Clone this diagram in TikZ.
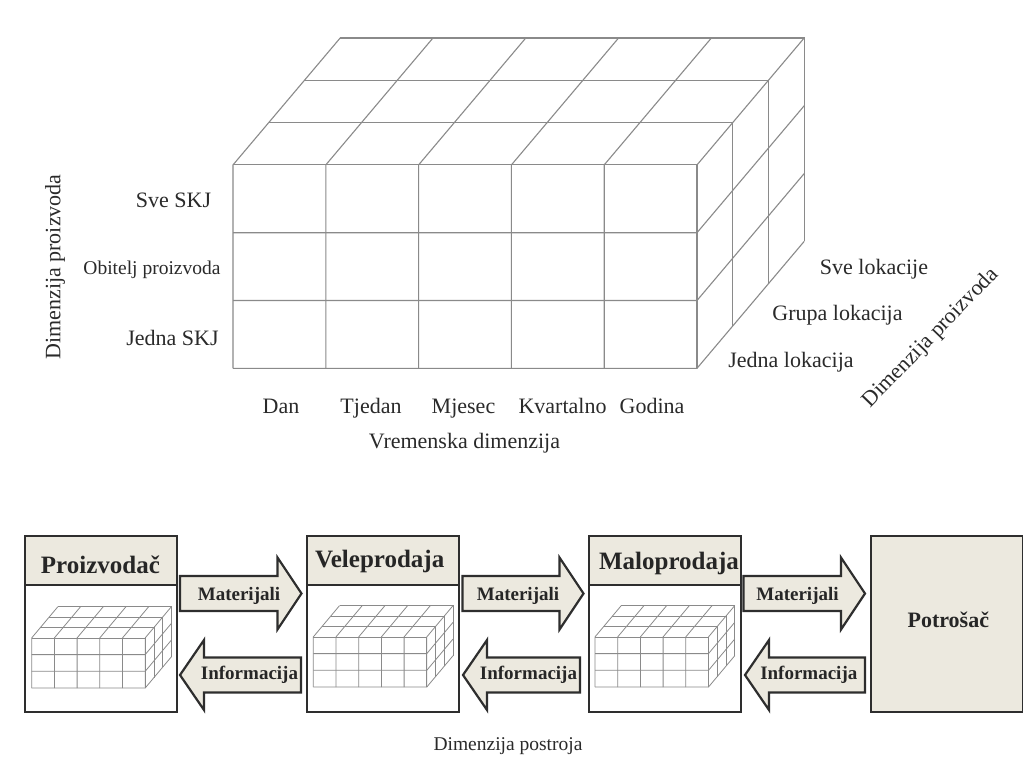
\documentclass[tikz,border=0pt]{standalone}
\usepackage{fontspec}
\setmainfont{Liberation Serif}
\usetikzlibrary{calc}
\definecolor{beige}{HTML}{ECE9DF}
\definecolor{txt}{HTML}{2A2A2A}
\definecolor{gridc}{HTML}{8A8A8A}
\definecolor{boxc}{HTML}{2E2E2E}
\def\da{0.385}
\def\db{0.624}
\newcommand{\cubegrid}{%
  \foreach \i in {0,...,5} {\draw (\i,0) -- (\i,3) -- ++(3*\da,3*\db);}
  \foreach \j in {0,...,2} {\draw (0,\j) -- (5,\j) -- ++(3*\da,3*\db);}
  \foreach \k in {0,...,3} {\draw (\k*\da,3+\k*\db) -- ++(5,0) -- ++(0,-3);}
}
\newcommand{\myrarrow}[3]{\draw[blockarrow] (#1,#3-17.5) -- (#2-24,#3-17.5) -- (#2-24,#3-36) -- (#2,#3) -- (#2-24,#3+36) -- (#2-24,#3+17.5) -- (#1,#3+17.5) -- cycle;}
\newcommand{\mylarrow}[3]{\draw[blockarrow] (#2,#3-17.5) -- (#1+24,#3-17.5) -- (#1+24,#3-35) -- (#1,#3) -- (#1+24,#3+35) -- (#1+24,#3+17.5) -- (#2,#3+17.5) -- cycle;}
\tikzset{
  lbl/.style={text=txt, inner sep=0pt, font=\fontsize{22}{26}\selectfont},
  smalllbl/.style={text=txt, inner sep=0pt, font=\fontsize{19.5}{23}\selectfont},
  bigbox/.style={draw=boxc, line width=2.4pt, minimum width=152pt, minimum height=176pt, anchor=north west, inner sep=0pt},
  hdr/.style={draw=boxc, fill=beige, line width=2.4pt, minimum width=152pt, minimum height=49pt, anchor=north west, inner sep=0pt},
  hdrtxt/.style={text=black!85, inner sep=0pt, anchor=base, font=\bfseries\fontsize{25}{29}\selectfont},
  arrtxt/.style={text=black!85, inner sep=0pt, font=\bfseries\fontsize{19}{22}\selectfont},
  blockarrow/.style={draw=boxc, fill=beige, line width=2.2pt, line join=miter},
  biggrid/.style={draw=gridc, line width=1.1pt},
  smallgrid/.style={draw=gridc, line width=0.8pt}
}
\begin{document}
\begin{tikzpicture}[x=1pt, y=-1pt]
\useasboundingbox[fill=white] (0,0) rectangle (1023,763);

% big cube
\begin{scope}[shift={(233,368.3)}, x={(92.8pt,0pt)}, y={(0pt,67.8pt)}, biggrid]
  \cubegrid
\end{scope}

% labels of the big cube
\node[lbl] (sveskj) at (173.5,200) {Sve SKJ};
\node[smalllbl] (obitelj) at (152,270) {Obitelj proizvoda};
\node[lbl] (jednaskj) at (172.5,338) {Jedna SKJ};
\node[lbl, rotate=90] (dimp1) at (55,267) {Dimenzija proizvoda};
\node[lbl, anchor=base] (dan) at (281,413) {Dan};
\node[lbl, anchor=base] (tjedan) at (371,413) {Tjedan};
\node[lbl, anchor=base] (mjesec) at (463.5,413) {Mjesec};
\node[lbl, anchor=base] (kvart) at (562.5,413) {Kvartalno};
\node[lbl, anchor=base] (godina) at (652,413) {Godina};
\node[lbl, anchor=base] (vrem) at (464.5,448) {Vremenska dimenzija};
\node[lbl] (svelok) at (874,269) {Sve lokacije};
\node[lbl] (grupalok) at (837.5,315) {Grupa lokacija};
\node[lbl] (jednalok) at (791,362) {Jedna lokacija};
\node[lbl, rotate=46] (dimp2) at (931,338) {Dimenzija proizvoda};

% boxes
\node[bigbox] (prod) at (24,534.5) {};
\node[hdr] (prodh) at (24,534.5) {};
\node[hdrtxt] (prodt) at (100.4,573) {Proizvodač};
\begin{scope}[shift={(31.7,688)}, x={(22.7pt,0pt)}, y={(0pt,16.7pt)}, smallgrid]
  \cubegrid
\end{scope}

\node[bigbox] (vele) at (305.5,534.5) {};
\node[hdr] (veleh) at (305.5,534.5) {};
\node[hdrtxt] (velet) at (379.7,567) {Veleprodaja};
\begin{scope}[shift={(313.3,687)}, x={(22.7pt,0pt)}, y={(0pt,16.7pt)}, smallgrid]
  \cubegrid
\end{scope}

\node[bigbox] (malo) at (587.5,534.5) {};
\node[hdr] (maloh) at (587.5,534.5) {};
\node[hdrtxt] (malot) at (669,569) {Maloprodaja};
\begin{scope}[shift={(595,687)}, x={(22.7pt,0pt)}, y={(0pt,16.7pt)}, smallgrid]
  \cubegrid
\end{scope}

\node[bigbox, fill=beige] (potr) at (869.5,535) {};
\node[text=black!85, inner sep=0pt, font=\bfseries\fontsize{22}{26}\selectfont] (potrt) at (948.3,620) {Potrošač};

% block arrows
\myrarrow{180}{301.5}{593.5}
\mylarrow{180}{301}{675}
\myrarrow{462.5}{583.5}{593.5}
\mylarrow{463}{580}{675}
\myrarrow{743.5}{865}{593.5}
\mylarrow{745}{865}{675}

\node[arrtxt] (m1) at (239,596) {Materijali};
\node[arrtxt] (i1) at (249.5,675) {Informacija};
\node[arrtxt] (m2) at (518,596) {Materijali};
\node[arrtxt] (i2) at (528.5,675) {Informacija};
\node[arrtxt] (m3) at (797.5,596) {Materijali};
\node[arrtxt] (i3) at (808.8,675) {Informacija};

\node[smalllbl] (dimpost) at (508,746) {Dimenzija postroja};
\end{tikzpicture}
\end{document}
